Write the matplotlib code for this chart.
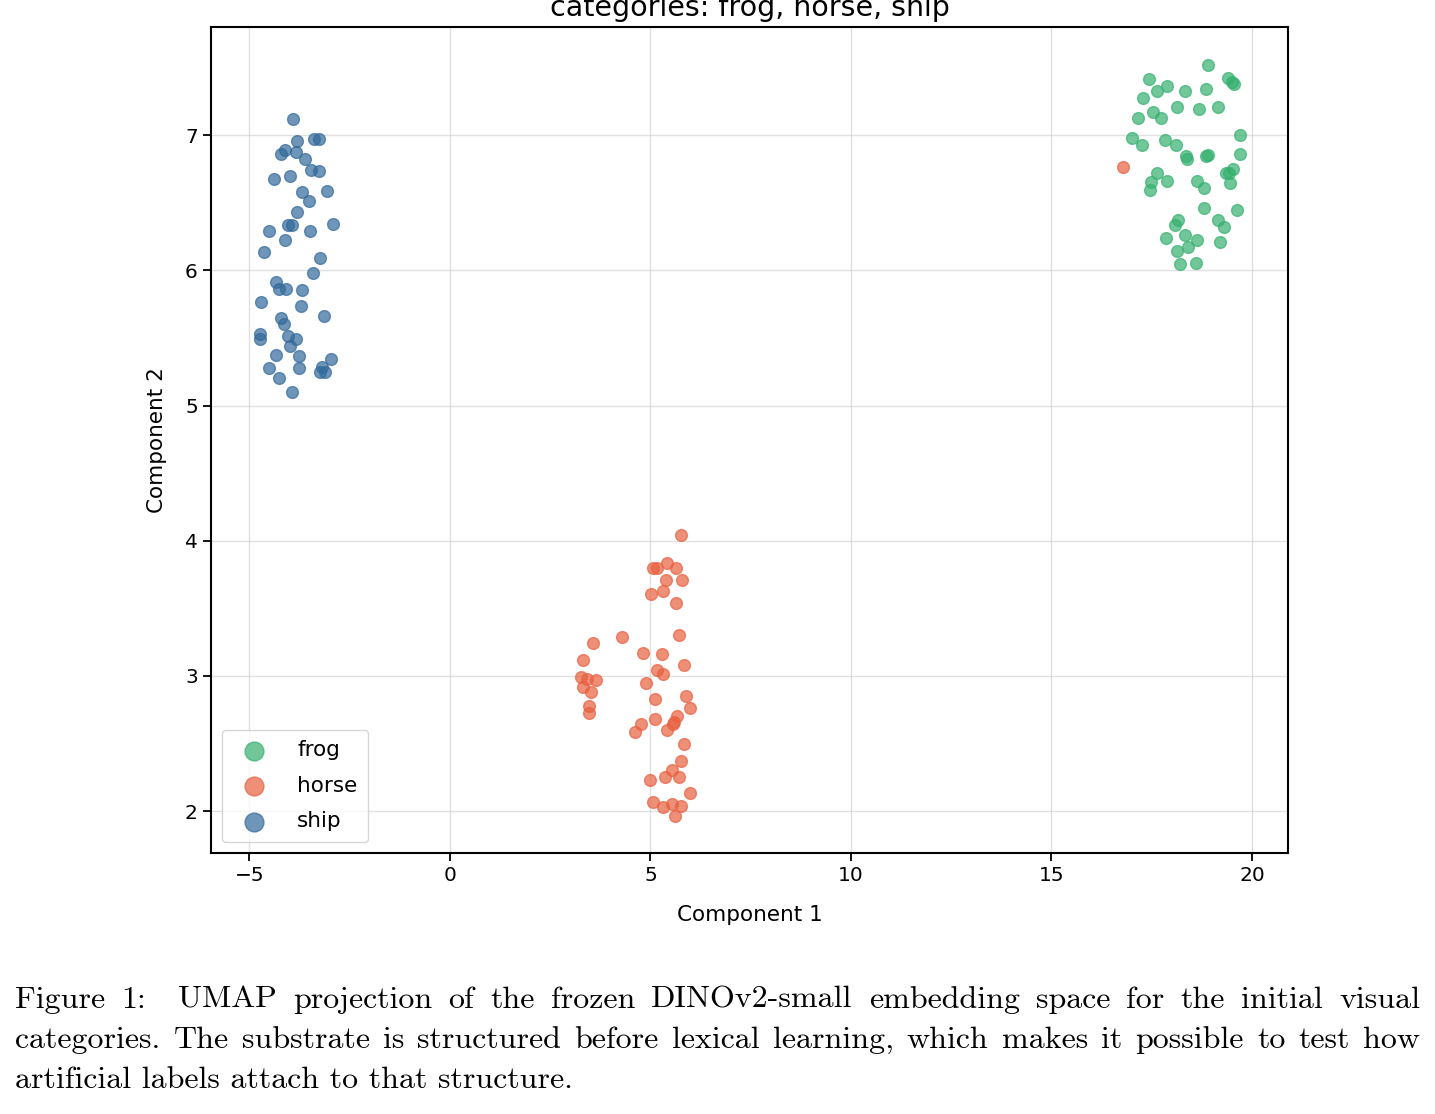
import matplotlib
matplotlib.use("Agg")
import matplotlib.pyplot as plt
import numpy as np

# ---------------- data ----------------
categories = ["frog", "horse", "ship"]

frog_x = [18.897, 17.431, 19.413, 19.513, 19.553, 17.881, 17.624, 18.340, 18.854, 17.292,
          17.541, 18.140, 18.672, 19.154, 17.741, 17.149, 17.007, 17.267, 17.831, 18.115,
          19.703, 18.355, 18.373, 18.854, 18.904, 19.703, 17.641, 17.491, 17.456, 17.891,
          18.622, 18.804, 19.346, 19.538, 19.428, 19.446, 18.804, 19.638, 18.165, 18.073,
          19.164, 19.304, 17.856, 18.323, 18.622, 19.196, 18.415, 18.123, 18.198, 18.615]
frog_y = [7.518, 7.412, 7.424, 7.394, 7.375, 7.360, 7.328, 7.328, 7.338, 7.276,
          7.172, 7.209, 7.192, 7.205, 7.126, 7.128, 6.976, 6.926, 6.963, 6.926,
          6.998, 6.845, 6.822, 6.845, 6.852, 6.857, 6.721, 6.655, 6.593, 6.662,
          6.662, 6.610, 6.721, 6.746, 6.717, 6.643, 6.458, 6.450, 6.371, 6.334,
          6.369, 6.322, 6.240, 6.258, 6.223, 6.206, 6.169, 6.144, 6.048, 6.053]

horse_x = [5.766, 5.060, 5.160, 5.424, 5.634, 5.392, 5.799, 5.025, 5.310, 5.642,
           5.709, 4.286, 3.577, 3.320, 4.825, 5.285, 5.841, 5.160, 5.325, 3.263,
           3.412, 3.645, 3.328, 3.520, 3.477, 3.470, 4.893, 5.110, 5.891, 5.991,
           5.110, 5.674, 5.599, 5.567, 5.409, 4.768, 4.626, 5.841, 5.759, 5.542,
           5.360, 5.709, 5.000, 5.991, 5.060, 5.310, 5.542, 5.766, 5.624, 16.775]
horse_y = [4.044, 3.800, 3.800, 3.832, 3.800, 3.706, 3.709, 3.607, 3.627, 3.541,
           3.304, 3.287, 3.245, 3.119, 3.169, 3.161, 3.078, 3.043, 3.013, 2.989,
           2.976, 2.967, 2.919, 2.880, 2.777, 2.723, 2.946, 2.831, 2.851, 2.764,
           2.680, 2.700, 2.661, 2.641, 2.597, 2.641, 2.587, 2.496, 2.372, 2.303,
           2.254, 2.252, 2.227, 2.133, 2.067, 2.032, 2.052, 2.037, 1.965, 6.761]

ship_x = [-3.912, -3.395, -3.263, -3.827, -4.111, -4.211, -3.852, -3.627, -3.470, -3.263,
          -4.401, -4.001, -3.694, -3.063, -3.520, -3.827, -4.036, -3.952, -4.511, -3.495,
          -2.921, -4.111, -4.643, -3.238, -3.427, -4.344, -4.261, -4.094, -3.687, -4.710,
          -3.719, -3.145, -4.226, -4.144, -4.743, -4.743, -4.044, -3.844, -4.001, -4.336,
          -3.777, -2.978, -4.511, -3.777, -3.203, -3.113, -3.245, -4.261, -3.944]
ship_y = [7.116, 6.973, 6.973, 6.956, 6.889, 6.857, 6.876, 6.820, 6.739, 6.732,
          6.677, 6.695, 6.578, 6.588, 6.512, 6.433, 6.332, 6.332, 6.292, 6.290,
          6.340, 6.223, 6.137, 6.088, 5.979, 5.913, 5.861, 5.861, 5.854, 5.765,
          5.735, 5.659, 5.649, 5.600, 5.528, 5.493, 5.516, 5.489, 5.439, 5.373,
          5.365, 5.343, 5.277, 5.277, 5.286, 5.249, 5.245, 5.200, 5.101]

colors = {"frog": "#35b06f", "horse": "#e8603f", "ship": "#32699a"}

title = "categories: frog, horse, ship"
xlabel = "Component 1"
ylabel = "Component 2"
caption_lines = [
    "Figure 1:  UMAP projection of the frozen DINOv2-small embedding space for the initial visual",
    "categories. The substrate is structured before lexical learning, which makes it possible to test how",
    "artificial labels attach to that structure.",
]

# ---------------- figure ----------------
W, H = 1435, 1114
plt.rcParams["font.family"] = "DejaVu Sans"
plt.rcParams["font.size"] = 14.5
fig = plt.figure(figsize=(W / 100, H / 100), dpi=100)
ax = fig.add_axes([211 / W, 1 - 853 / H, (1288 - 211) / W, (853 - 27) / H])

series = {"frog": (frog_x, frog_y), "horse": (horse_x, horse_y), "ship": (ship_x, ship_y)}
for cat in categories:
    xs, ys = series[cat]
    ax.scatter(xs, ys, s=72, color=colors[cat], alpha=0.7, edgecolors=colors[cat],
               linewidths=1.0, label=cat, zorder=3)

ax.set_xlim(-5.96, 20.9)
ax.set_ylim(1.69, 7.80)
ax.set_xticks([-5, 0, 5, 10, 15, 20])
ax.set_yticks([2, 3, 4, 5, 6, 7])
ax.grid(True, color="#cccccc", alpha=0.6, linewidth=1.0, zorder=0)
ax.set_axisbelow(True)
for sp in ax.spines.values():
    sp.set_linewidth(1.5)
ax.tick_params(width=1.3, length=6)
ax.set_xlabel(xlabel, fontsize=15.5, labelpad=14)
ax.set_ylabel(ylabel, fontsize=15.5, labelpad=13)

leg = ax.legend(loc="lower left", markerscale=1.6, fontsize=15.5, framealpha=0.8,
                borderpad=0.5, labelspacing=0.72, handletextpad=1.0,
                bbox_to_anchor=(0.0, 0.0))

fig.text(749.5 / W, 1 - 16 / H, title, ha="center", va="baseline", fontsize=20.5)

# ---------------- caption (justified) ----------------
renderer = fig.canvas.get_renderer()
cap_font = dict(family="cmr10", fontsize=23)
left_px, right_px = 15, 1420
baselines = [1008, 1048, 1088]
for i, line in enumerate(caption_lines):
    words = line.split(" ")
    yb = 1 - baselines[i] / H
    if i == len(caption_lines) - 1:
        fig.text(left_px / W, yb, line, ha="left", va="baseline", **cap_font)
        continue
    widths = []
    for w in words:
        t = fig.text(0, 0, w if w else " ", **cap_font)
        bb = t.get_window_extent(renderer)
        widths.append(bb.width if w else 0)
        t.remove()
    gaps = len(words) - 1
    space = (right_px - left_px - sum(widths)) / gaps
    x = left_px
    for w, wd in zip(words, widths):
        if w:
            fig.text(x / W, yb, w, ha="left", va="baseline", **cap_font)
        x += wd + space

fig.savefig("out.png", dpi=100)
